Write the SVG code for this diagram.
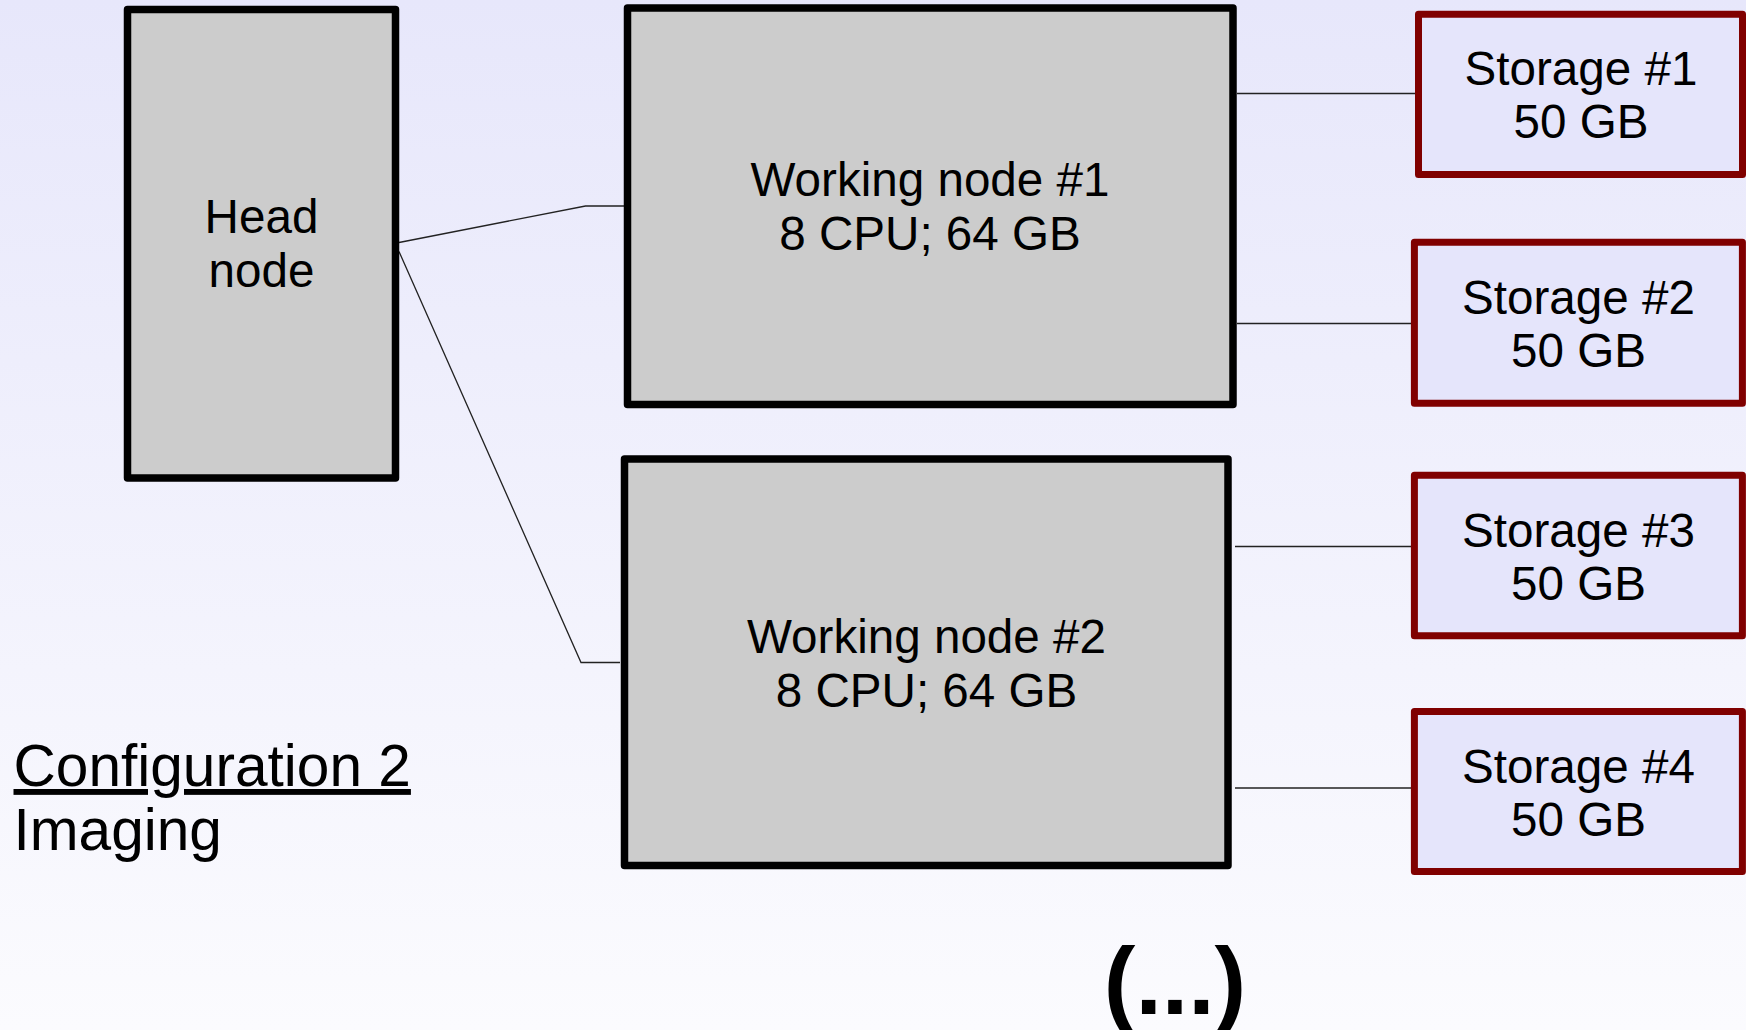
<svg xmlns="http://www.w3.org/2000/svg" width="1746" height="1030" viewBox="0 0 1746 1030">
  <defs>
    <linearGradient id="bg" x1="0" y1="0" x2="0" y2="1">
      <stop offset="0" stop-color="#e7e7fb"/>
      <stop offset="1" stop-color="#fbfbfe"/>
    </linearGradient>
    <style>
      .txt { font-family: "Liberation Sans", Arial, sans-serif; fill: #000; }
      .lbl { font-size: 47.6px; text-anchor: middle; }
      .compute { fill: #cccccc; stroke: #000; stroke-width: 7.5; stroke-linejoin: round; }
      .storage { fill: #e5e5fb; stroke: #800000; stroke-width: 7; stroke-linejoin: round; }
      .link { fill: none; stroke: #222; stroke-width: 1.3; }
    </style>
  </defs>

  <rect x="0" y="0" width="1746" height="1030" fill="url(#bg)"/>

  <!-- links between nodes -->
  <g id="connectors">
    <polyline class="link" points="399,242.5 585.5,206 624,206"/>
    <polyline class="link" points="399,251.5 581,662.5 620,662.5"/>
    <line class="link" x1="1237" y1="93.5" x2="1415" y2="93.5"/>
    <line class="link" x1="1237" y1="323.5" x2="1411" y2="323.5"/>
    <line class="link" x1="1235" y1="546.5" x2="1411" y2="546.5"/>
    <line class="link" x1="1235" y1="788" x2="1411" y2="788"/>
  </g>

  <g id="head-node">
    <rect class="compute" x="127.5" y="9.5" width="268" height="468.5"/>
    <text class="txt lbl" x="261.5" y="233">Head</text>
    <text class="txt lbl" x="261.5" y="287">node</text>
  </g>

  <g id="working-node-1">
    <rect class="compute" x="627.5" y="8" width="605.5" height="396.5"/>
    <text class="txt lbl" x="930" y="196">Working node #1</text>
    <text class="txt lbl" x="930" y="250">8 CPU; 64 GB</text>
  </g>

  <g id="working-node-2">
    <rect class="compute" x="624.5" y="459" width="603.5" height="406.5"/>
    <text class="txt lbl" x="926.5" y="652.5">Working node #2</text>
    <text class="txt lbl" x="926.5" y="706.5">8 CPU; 64 GB</text>
  </g>

  <g id="storage-1">
    <rect class="storage" x="1418.5" y="14.2" width="324" height="160.3"/>
    <text class="txt lbl" x="1581" y="84.5">Storage #1</text>
    <text class="txt lbl" x="1581" y="138">50 GB</text>
  </g>

  <g id="storage-2">
    <rect class="storage" x="1414.4" y="242.2" width="328" height="161"/>
    <text class="txt lbl" x="1578.5" y="313.5">Storage #2</text>
    <text class="txt lbl" x="1578.5" y="367">50 GB</text>
  </g>

  <g id="storage-3">
    <rect class="storage" x="1414.4" y="475.2" width="328" height="160.6"/>
    <text class="txt lbl" x="1578.5" y="546.5">Storage #3</text>
    <text class="txt lbl" x="1578.5" y="600">50 GB</text>
  </g>

  <g id="storage-4">
    <rect class="storage" x="1414.4" y="711.5" width="328" height="160"/>
    <text class="txt lbl" x="1578.5" y="782.5">Storage #4</text>
    <text class="txt lbl" x="1578.5" y="836">50 GB</text>
  </g>

  <!-- caption -->
  <g id="caption">
    <text class="txt" x="13.5" y="786" font-size="58.6" text-decoration="underline">Configuration 2</text>
    <text class="txt" x="13.5" y="850" font-size="58.6">Imaging</text>
  </g>

  <text class="txt" x="1175" y="1014" font-size="95" font-weight="bold" text-anchor="middle">(...)</text>
</svg>
